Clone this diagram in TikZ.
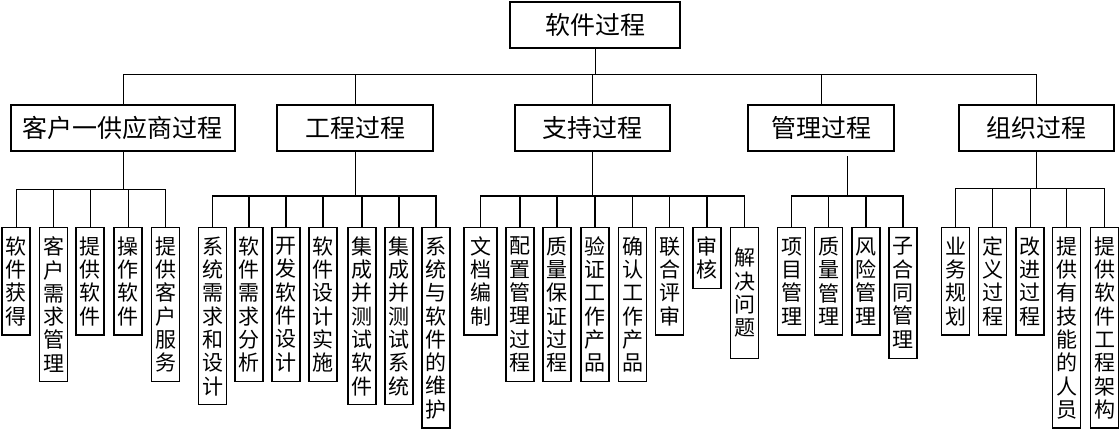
\documentclass[tikz,border=0pt]{standalone}
\usepackage{fontspec}
\newfontfamily\cjk{Noto Sans CJK SC}

\begin{document}
\begin{tikzpicture}[x=1pt, y=-1pt,
  topbox/.style={draw, line width=2.4pt, minimum height=46pt, inner sep=0pt,
    font=\cjk\fontsize{25}{27}\selectfont},
  leaf/.style={draw, line width=1.3pt, anchor=north, align=center,
    minimum width=28pt, inner xsep=3pt, inner ysep=3pt,
    minimum height={23.3pt*#1+14pt}, font=\cjk\fontsize{21}{23.3}\selectfont},
  link/.style={line width=1pt}]
  \useasboundingbox (0,0) rectangle (1120,432);

  \node[topbox, minimum width=170pt] (root) at (595,25) {软件过程};
  \node[topbox, minimum width=224pt] (p1) at (123,128) {客户一供应商过程};
  \node[topbox, minimum width=156pt] (p2) at (355,128) {工程过程};
  \node[topbox, minimum width=155pt] (p3) at (592.5,128) {支持过程};
  \node[topbox, minimum width=146pt] (p4) at (821,128) {管理过程};
  \node[topbox, minimum width=155pt] (p5) at (1036.5,128) {组织过程};

  \coordinate (b0) at (595,74);
  \draw[link] (root.south) -- (b0);
  \foreach \i in {1,...,5}
    \draw[link] (b0) -| (p\i.north);

  \foreach \x/\n/\t [count=\i] in {16/4/{软\\件\\获\\得}, 53.5/6/{客\\户\\需\\求\\管\\理},
      90/4/{提\\供\\软\\件}, 128/4/{操\\作\\软\\件}, 165.5/6/{提\\供\\客\\户\\服\\务}}
    \node[leaf=\n] (g1-\i) at (\x,227) {\t};
  \foreach \x/\n/\t [count=\i] in {212.5/7/{系\\统\\需\\求\\和\\设\\计}, 249/6/{软\\件\\需\\求\\分\\析},
      286/6/{开\\发\\软\\件\\设\\计}, 323/6/{软\\件\\设\\计\\实\\施},
      362/7/{集\\成\\并\\测\\试\\软\\件}, 399/7/{集\\成\\并\\测\\试\\系\\统},
      436/8/{系\\统\\与\\软\\件\\的\\维\\护}}
    \node[leaf=\n] (g2-\i) at (\x,227) {\t};
  \node[leaf=4, minimum width=33pt] (g3-1) at (480.5,227) {文\\档\\编\\制};
  \foreach \x/\n/\t [count=\i from 2] in {520/6/{配\\置\\管\\理\\过\\程},
      557/6/{质\\量\\保\\证\\过\\程}, 595/6/{验\\证\\工\\作\\产\\品},
      632.5/6/{确\\认\\工\\作\\产\\品}, 669.5/4/{联\\合\\评\\审},
      707/2/{审\\核}, 744.5/5/{解\\决\\问\\题}}
    \node[leaf=\n] (g3-\i) at (\x,227) {\t};
  \foreach \x/\n/\t [count=\i] in {791.5/4/{项\\目\\管\\理}, 828.5/4/{质\\量\\管\\理},
      866/4/{风\\险\\管\\理}, 903/5/{子\\合\\同\\管\\理}}
    \node[leaf=\n] (g4-\i) at (\x,227) {\t};
  \foreach \x/\n/\t [count=\i] in {955.5/4/{业\\务\\规\\划}, 992.5/4/{定\\义\\过\\程},
      1030/4/{改\\进\\过\\程}, 1066.5/8/{提\\供\\有\\技\\能\\的\\人\\员},
      1104.5/8/{提\\供\\软\\件\\工\\程\\架\\构}}
    \node[leaf=\n] (g5-\i) at (\x,227) {\t};

  \coordinate (b1) at (123,189);
  \coordinate (b2) at (355,196);
  \coordinate (b3) at (592.5,196);
  \coordinate (s4) at (847,156);
  \coordinate (b4) at (847,196);
  \coordinate (b5) at (1036.5,188);
  \draw[link] (p1.south) -- (b1);
  \draw[link] (p2.south) -- (b2);
  \draw[link] (p3.south) -- (b3);
  \draw[link] (s4) -- (b4);
  \draw[link] (p5.south) -- (b5);
  \foreach \i in {1,...,5}
    \draw[link] (b1) -| (g1-\i.north);
  \foreach \i in {1,...,7}
    \draw[link, line width=1.6pt] (b2) -| (g2-\i.north);
  \foreach \i in {1,...,8}
    \draw[link, line width=1.6pt] (b3) -| (g3-\i.north);
  \foreach \i in {1,...,4}
    \draw[link, line width=1.6pt] (b4) -| (g4-\i.north);
  \foreach \i in {1,...,5}
    \draw[link] (b5) -| (g5-\i.north);
\end{tikzpicture}
\end{document}
